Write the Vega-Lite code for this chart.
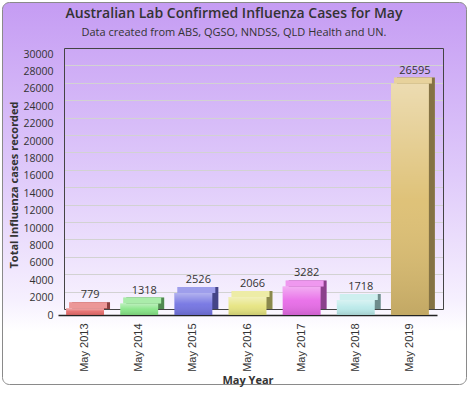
{
  "$schema": "https://vega.github.io/schema/vega-lite/v6.json",
  "width": 464,
  "height": 382,
  "autosize": {"type": "none"},
  "padding": {"left": 2, "top": 2, "right": 9, "bottom": 12},
  "background": "#ffffff",
  "config": {
    "view": {
      "stroke": "#8a8a8a",
      "strokeWidth": 1,
      "cornerRadius": 7,
      "fill": {"gradient": "linear", "x1": 0, "y1": 0, "x2": 0, "y2": 1,
        "stops": [
          {"offset": 0, "color": "#c59cf3"},
          {"offset": 0.45, "color": "#dfcafa"},
          {"offset": 0.78, "color": "#f6f0fe"},
          {"offset": 0.86, "color": "#ffffff"},
          {"offset": 1, "color": "#ffffff"}
        ]}
    },
    "font": "Open Sans"
  },
  "title": {
    "text": "Australian Lab Confirmed Influenza Cases for May",
    "subtitle": "Data created from ABS, QGSO, NNDSS, QLD Health and UN.",
    "anchor": "middle",
    "frame": "group",
    "orient": "top",
    "offset": -36,
    "font": "Open Sans",
    "fontSize": 14,
    "fontWeight": 600,
    "color": "#333333",
    "subtitleFont": "Open Sans",
    "subtitleFontSize": 11,
    "subtitleColor": "#333333",
    "subtitlePadding": 6
  },
  "data": {
    "values": [
      {"year": "May 2013", "cases": 779},
      {"year": "May 2014", "cases": 1318},
      {"year": "May 2015", "cases": 2526},
      {"year": "May 2016", "cases": 2066},
      {"year": "May 2017", "cases": 3282},
      {"year": "May 2018", "cases": 1718},
      {"year": "May 2019", "cases": 26595}
    ]
  },
  "layer": [
    {
      "mark": {"type": "bar", "opacity": 0},
      "encoding": {
        "x": {"field": "year", "type": "nominal", "sort": null,
          "scale": {"range": [62, 441], "paddingInner": 0.3, "paddingOuter": 0.15},
          "axis": {"orient": "bottom", "offset": -75, "labels": false, "ticks": false, "title": null, "grid": false, "domain": true, "domainColor": "#444444"}},
        "y": {"field": "cases", "type": "quantitative",
          "scale": {"domain": [0, 30000], "range": [307, 46], "nice": false},
          "axis": {"orient": "left", "offset": -62, "labels": false, "ticks": false, "title": null, "grid": true, "gridColor": "#d2d2d2", "values": [0,2000,4000,6000,8000,10000,12000,14000,16000,18000,20000,22000,24000,26000,28000,30000], "domain": true, "domainColor": "#444444"}}
      }
    },
    {
      "mark": {"type": "bar", "opacity": 0},
      "encoding": {
        "x": {"field": "year", "type": "nominal", "sort": null,
          "scale": {"range": [62, 441], "paddingInner": 0.3, "paddingOuter": 0.15},
          "axis": {"orient": "top", "offset": -46, "labels": false, "ticks": false, "title": null, "grid": false, "domain": true, "domainColor": "#444444"}},
        "y": {"field": "cases", "type": "quantitative",
          "scale": {"domain": [0, 30000], "range": [307, 46], "nice": false},
          "axis": {"orient": "right", "offset": -23, "labels": false, "ticks": false, "title": null, "grid": false, "domain": true, "domainColor": "#444444"}}
      }
    },
    {
      "encoding": {
        "x": {"field": "year", "type": "nominal", "sort": null,
          "scale": {"range": [56, 435], "paddingInner": 0.3, "paddingOuter": 0.15},
          "axis": {"orient": "bottom", "offset": -69, "labelAngle": -90, "labelFont": "Liberation Sans", "labelFontSize": 11, "labelColor": "#333333", "labelPadding": 8, "ticks": false, "domain": true, "domainColor": "#222222", "domainWidth": 1.5, "grid": false, "title": "May Year", "titleFont": "Open Sans", "titleFontSize": 11, "titleFontWeight": "bold", "titleColor": "#333333", "titlePadding": 3}},
        "y": {"field": "cases", "type": "quantitative",
          "scale": {"domain": [0, 30000], "range": [313, 52], "nice": false},
          "axis": {"orient": "left", "offset": -56, "values": [0,2000,4000,6000,8000,10000,12000,14000,16000,18000,20000,22000,24000,26000,28000,30000], "format": "d", "labelFont": "Open Sans", "labelFontSize": 10.5, "labelColor": "#333333", "labelPadding": 5, "ticks": false, "domain": false, "grid": false, "title": "Total Influenza cases recorded", "titleFont": "Open Sans", "titleFontSize": 11, "titleFontWeight": "bold", "titleColor": "#333333", "titlePadding": 3}},
        "color": {"field": "year", "type": "nominal", "legend": null,
          "scale": {"domain": ["May 2013","May 2014","May 2015","May 2016","May 2017","May 2018","May 2019"],
            "range": ["#e46a6a","#86e486","#7474e2","#e6e480","#e86ce8","#b9e9e9","#ddbf72"]}}
      },
      "layer": [
        {"mark": {"type": "bar", "xOffset": 6, "yOffset": -6, "y2Offset": -6}, "encoding": {"y2": {"datum": 0}}},
        {"mark": {"type": "bar", "xOffset": 6, "yOffset": -6, "y2Offset": -6, "opacity": 0.4}, "encoding": {"y2": {"datum": 0}, "color": {"value": "#000000"}}},
        {"mark": {"type": "bar", "xOffset": 3, "yOffset": -6, "y2Offset": 0}, "encoding": {"y2": {"field": "cases"}}},
        {"mark": {"type": "bar", "xOffset": 3, "yOffset": -6, "y2Offset": 0, "opacity": 0.3}, "encoding": {"y2": {"field": "cases"}, "color": {"value": "#ffffff"}}},
        {"mark": {"type": "bar"}, "encoding": {"y2": {"datum": 0}}},
        {"mark": {"type": "bar",
          "fill": {"gradient": "linear", "x1": 0, "y1": 0, "x2": 0, "y2": 1,
            "stops": [
              {"offset": 0, "color": "rgba(255,255,255,0.45)"},
              {"offset": 0.5, "color": "rgba(255,255,255,0.05)"},
              {"offset": 1, "color": "rgba(0,0,0,0.12)"}
            ]}},
          "encoding": {"y2": {"datum": 0}, "color": {"value": null}}},
        {"mark": {"type": "text", "baseline": "bottom", "dy": -8, "dx": 5, "font": "Open Sans", "fontSize": 11, "color": "#333333"},
          "encoding": {"text": {"field": "cases", "type": "quantitative", "format": "d"}, "color": {"value": "#333333"}}}
      ]
    }
  ],
  "resolve": {
    "scale": {"x": "independent", "y": "independent"},
    "axis": {"x": "independent", "y": "independent"}
  }
}
